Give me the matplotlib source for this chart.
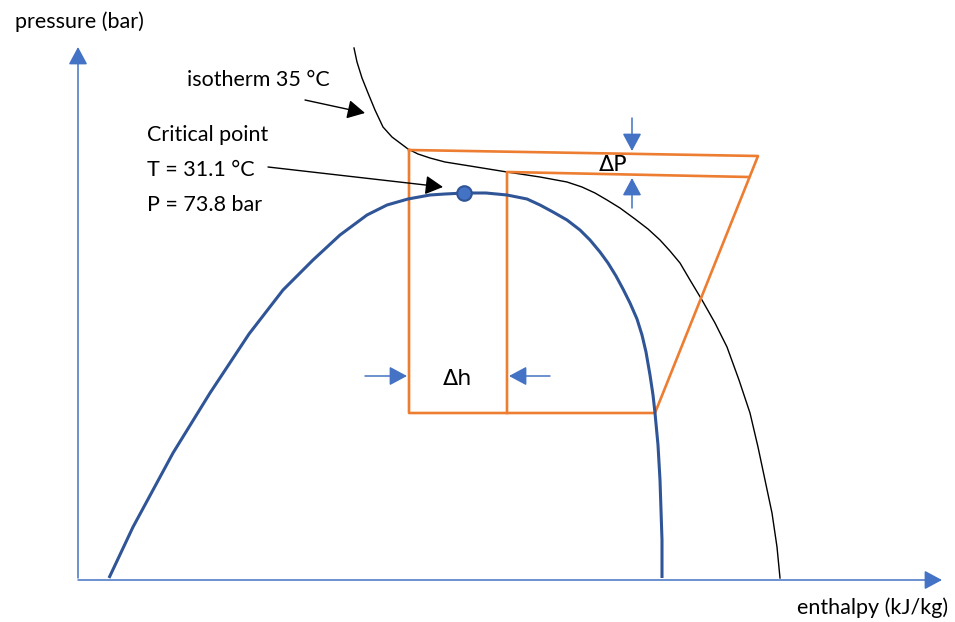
import numpy as np
import matplotlib
matplotlib.use("Agg")
import matplotlib.pyplot as plt

# Schematic p-h diagram (arbitrary units: enthalpy h -> right, pressure p -> up)
dome_h = [31, 55, 95, 132, 171, 205, 235, 262, 289, 309, 330, 352, 367, 387,
          408, 429, 449, 462, 475, 489, 502, 512, 522, 530, 538, 545, 552,
          559, 564, 568, 572, 575, 577, 580, 582, 583, 584, 584]
dome_p = [2, 53, 127, 187, 246, 290, 320, 345, 365, 375, 381, 385, 386, 387,
          387, 385, 381, 375, 368, 360, 350, 340, 328, 317, 304, 291, 277,
          261, 245, 228, 205, 185, 167, 135, 100, 70, 40, 2]

iso_h = [276, 279, 284, 290, 297, 305, 314, 322, 330, 340, 352, 367, 392, 429,
         462, 489, 504, 517, 529, 542, 557, 570, 582, 592, 602, 612, 624, 637,
         649, 661, 672, 680, 687, 694, 699, 702]
iso_p = [532, 518, 502, 487, 470, 453, 443, 437, 431, 426, 422, 418, 414, 408,
         403, 398, 393, 387, 380, 372, 361, 351, 340, 329, 317, 300, 280, 257,
         233, 200, 167, 133, 100, 67, 33, 2]

# transcritical cycle (outer) and the shifted cycle (inner)
cycle_h = [331, 680, 577, 331, 331]
cycle_p = [430, 424, 167, 167, 430]
inner_h = [429, 429, 671]
inner_p = [167, 408, 403]

crit_h, crit_p = 386, 387

AXIS = "#4472C4"
DOME = "#2F5597"
ORANGE = "#ED7D31"
FONT = "Lato"

fig = plt.figure(figsize=(9.55, 6.22), dpi=100)
ax = fig.add_axes([0, 0, 1, 1])
ax.set_xlim(-78, 877)
ax.set_ylim(-42, 580)
ax.axis("off")


def arrow(x0, y0, x1, y1, color, lw=1.1):
    ax.annotate("", xy=(x1, y1), xytext=(x0, y0),
                arrowprops=dict(arrowstyle="-|>,head_length=0.54,head_width=0.29",
                                mutation_scale=20, color=color, lw=lw,
                                shrinkA=0, shrinkB=0))


# axes
arrow(0, 2, 0, 533, AXIS)
arrow(0, 0, 864, 0, AXIS)

ax.plot(dome_h, dome_p, color=DOME, lw=2.2, solid_capstyle="butt",
        solid_joinstyle="round", zorder=3)
ax.plot(iso_h, iso_p, color="black", lw=1.0, solid_joinstyle="round", zorder=2)
ax.plot(cycle_h, cycle_p, color=ORANGE, lw=1.9, zorder=2)
ax.plot(inner_h, inner_p, color=ORANGE, lw=1.9, zorder=2)
ax.scatter([crit_h], [crit_p], s=110, color=AXIS, edgecolors=DOME,
           linewidths=1.5, zorder=4)

# delta P / delta h markers
arrow(554, 462, 554, 429, AXIS)
arrow(554, 372, 554, 402, AXIS)
arrow(287, 204, 329, 204, AXIS)
arrow(472, 204, 431, 204, AXIS)

# pointer arrows
arrow(227, 480, 287, 467, "black", lw=1.0)
arrow(190, 413, 365, 393, "black", lw=1.0)

fs = 15.5
ax.text(-63, 558, "pressure (bar)", fontsize=fs, family=FONT, va="center")
ax.text(870, -28, "enthalpy (kJ/kg)", fontsize=fs, family=FONT, va="center", ha="right")
ax.text(109, 500, "isotherm 35 °C", fontsize=fs, family=FONT, va="center")
ax.text(69, 445, "Critical point", fontsize=fs, family=FONT, va="center")
ax.text(69, 410, "T = 31.1 °C", fontsize=fs, family=FONT, va="center")
ax.text(69, 375, "P = 73.8 bar", fontsize=fs, family=FONT, va="center")
ax.text(535, 415, "ΔP", fontsize=16, family="DejaVu Sans", va="center", ha="center")
ax.text(380, 201, "Δh", fontsize=16, family="DejaVu Sans", va="center", ha="center")

fig.savefig("out.png", dpi=100, facecolor="white")
